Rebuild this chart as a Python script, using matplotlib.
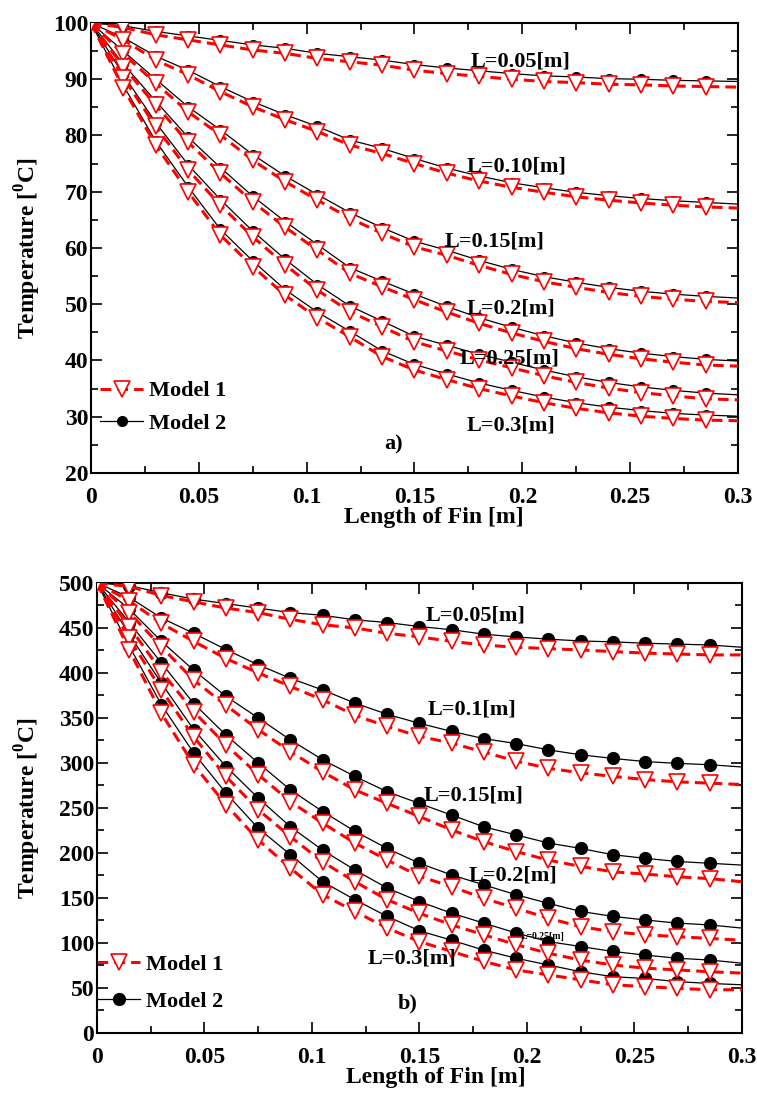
import matplotlib.pyplot as plt
from matplotlib.ticker import MultipleLocator

plt.rcParams['font.family'] = ['Liberation Serif', 'DejaVu Serif']
plt.rcParams['font.weight'] = 'bold'
plt.rcParams['mathtext.fontset'] = 'custom'
plt.rcParams['mathtext.rm'] = 'Liberation Serif:bold'
plt.rcParams['mathtext.bf'] = 'Liberation Serif:bold'

# position along the fin [m]; markers on every point except the last one
fin_x = [0.0, 0.015, 0.03, 0.045, 0.06, 0.075, 0.09, 0.105, 0.12, 0.135, 0.15,
         0.165, 0.18, 0.195, 0.21, 0.225, 0.24, 0.255, 0.27, 0.285, 0.3]

fin_lengths = ['0.05', '0.1', '0.15', '0.2', '0.25', '0.3']

# --- panel a): base temperature 100 C ---
a_m1_005 = [100, 99.2, 97.9, 97.0, 96.1, 95.2, 94.6, 93.7, 93.1, 92.5, 91.6, 91.0, 90.5, 90.0, 89.6, 89.4, 89.1, 89.0, 88.8, 88.7, 88.6]
a_m1_010 = [100, 97.0, 93.4, 90.8, 87.8, 85.1, 82.8, 80.7, 78.3, 76.8, 75.0, 73.3, 71.9, 70.8, 69.9, 69.1, 68.5, 68.0, 67.6, 67.3, 67.1]
a_m1_015 = [100, 94.5, 89.3, 84.2, 80.1, 75.6, 71.8, 68.5, 65.3, 62.6, 60.2, 58.7, 56.9, 55.3, 54.0, 53.0, 52.1, 51.4, 50.9, 50.5, 50.3]
a_m1_020 = [100, 92.2, 85.4, 78.8, 73.3, 68.2, 63.7, 59.6, 55.5, 53.1, 50.8, 48.6, 46.6, 44.9, 43.4, 42.1, 41.1, 40.3, 39.7, 39.2, 39.0]
a_m1_025 = [100, 90.3, 81.6, 73.9, 67.6, 62.0, 57.0, 52.5, 48.7, 46.0, 43.3, 41.7, 40.1, 38.7, 37.3, 36.1, 35.1, 34.3, 33.7, 33.2, 33.0]
a_m1_030 = [100, 88.4, 78.3, 70.0, 62.3, 56.7, 51.6, 47.6, 44.2, 40.7, 38.3, 36.6, 35.0, 33.7, 32.5, 31.5, 30.7, 30.1, 29.7, 29.4, 29.3]

a_m2_005 = [100, 99.5, 98.5, 97.7, 96.9, 96.1, 95.5, 94.6, 94.0, 93.4, 92.6, 92.0, 91.5, 91.0, 90.6, 90.4, 90.1, 90.0, 89.8, 89.7, 89.6]
a_m2_010 = [100, 97.4, 94.1, 91.6, 88.7, 86.0, 83.7, 81.6, 79.2, 77.7, 75.9, 74.2, 72.8, 71.6, 70.7, 69.9, 69.3, 68.8, 68.4, 68.1, 67.8]
a_m2_015 = [100, 95.0, 90.0, 85.1, 81.0, 76.6, 72.8, 69.5, 66.3, 63.6, 61.2, 59.6, 57.8, 56.2, 54.9, 53.9, 53.0, 52.3, 51.8, 51.4, 51.1]
a_m2_020 = [100, 92.7, 86.1, 79.7, 74.3, 69.2, 64.7, 60.6, 56.5, 54.1, 51.8, 49.6, 47.6, 45.9, 44.4, 43.1, 42.1, 41.3, 40.7, 40.2, 39.9]
a_m2_025 = [100, 90.8, 82.3, 74.8, 68.6, 63.0, 58.0, 53.5, 49.7, 47.0, 44.3, 42.7, 41.1, 39.7, 38.3, 37.1, 36.1, 35.3, 34.7, 34.2, 33.9]
a_m2_030 = [100, 88.9, 79.0, 70.9, 63.3, 57.7, 52.6, 48.6, 45.2, 41.7, 39.3, 37.6, 36.0, 34.7, 33.5, 32.5, 31.7, 31.1, 30.6, 30.3, 30.1]

# --- panel b): base temperature 500 C ---
b_m1_005 = [500, 496, 486, 479, 472, 467, 459.5, 453.5, 450, 444, 440, 435, 431, 428.5, 427, 425.5, 423.7, 422, 421, 420, 420]
b_m1_010 = [500, 480, 455, 435, 416, 400, 385, 370, 353, 340.5, 329.5, 322, 312, 302, 294, 289, 285, 281.5, 279, 277.5, 276]
b_m1_015 = [500, 467, 429, 392, 364, 337, 312.5, 290, 270, 255, 240.5, 225.5, 212.5, 201.5, 192, 185, 179, 176.5, 173.5, 171.5, 168]
b_m1_020 = [500, 451.5, 401.5, 357, 320, 287, 257, 233, 211, 192, 174, 162.5, 149.5, 138.5, 127.5, 118, 112.5, 109, 107, 105, 103]
b_m1_025 = [500, 438.5, 381, 329, 285, 248, 218, 190, 168, 148, 133, 120, 109, 98, 88.5, 81, 75.5, 72, 70, 68, 66.5]
b_m1_030 = [500, 425.5, 355, 298, 253.5, 214.5, 183, 153.5, 135, 116.5, 101.5, 90.5, 79.5, 70, 64.5, 59, 53.5, 51.5, 49.5, 48, 48]

b_m2_005 = [500, 497, 489, 482, 477, 472, 467, 464, 459, 456, 451.5, 448, 443, 440, 437.5, 435.5, 434.5, 433, 432, 431, 428.5]
b_m2_010 = [500, 484, 461, 444, 426, 409, 394, 381, 366.5, 354, 344, 335, 327, 321.5, 314.5, 309, 305, 301.5, 299.5, 298, 295.5]
b_m2_015 = [500, 471, 435, 403, 374, 350, 325.5, 303.5, 285, 268, 255, 242, 229, 220, 211, 205, 198, 194, 190.5, 188.5, 186.5]
b_m2_020 = [500, 456, 411, 366, 331, 300, 270, 246, 224, 205, 188.5, 175.5, 164.5, 153.5, 144, 135, 129.5, 125.5, 122, 120, 116.5]
b_m2_025 = [500, 443, 388.5, 337, 296, 261, 229, 203, 181, 161, 146, 133, 122, 111, 101.5, 96, 90.5, 86.5, 83, 81, 77.5]
b_m2_030 = [500, 430, 364.5, 311, 266.5, 227.5, 198, 168, 148, 129.5, 113.5, 103, 92, 83, 75.5, 68, 62.5, 60.5, 57, 55, 53.5]

a_model1 = [a_m1_005, a_m1_010, a_m1_015, a_m1_020, a_m1_025, a_m1_030]
a_model2 = [a_m2_005, a_m2_010, a_m2_015, a_m2_020, a_m2_025, a_m2_030]
b_model1 = [b_m1_005, b_m1_010, b_m1_015, b_m1_020, b_m1_025, b_m1_030]
b_model2 = [b_m2_005, b_m2_010, b_m2_015, b_m2_020, b_m2_025, b_m2_030]

# curve labels: (text, x, y, fontsize)
a_labels = [('L=0.05[m]', 0.176, 93.2, 16), ('L=0.10[m]', 0.174, 74.5, 16),
            ('L=0.15[m]', 0.164, 61.1, 16), ('L=0.2[m]', 0.174, 49.3, 16),
            ('L=0.25[m]', 0.171, 40.4, 16), ('L=0.3[m]', 0.174, 28.5, 16)]
b_labels = [('L=0.05[m]', 0.153, 464, 16), ('L=0.1[m]', 0.154, 359, 16),
            ('L=0.15[m]', 0.152, 264, 16), ('L=0.2[m]', 0.173, 175, 16),
            ('L=0.25[m]', 0.197, 107, 7), ('L=0.3[m]', 0.126, 83, 16)]

fig = plt.figure(figsize=(7.57, 10.99), dpi=100)
ax_a = fig.add_axes([0.1202, 0.5696, 0.8547, 0.4095])
ax_b = fig.add_axes([0.1281, 0.0601, 0.8520, 0.4095])


def draw_panel(ax, model1, model2, dot_size):
    h1 = h2 = None
    for temps in model2:
        h2, = ax.plot(fin_x, temps, color='black', lw=0.9, marker='o', ms=dot_size,
                      mfc='black', mec='black', markevery=slice(0, 20), zorder=2)
    for temps in model1:
        h1, = ax.plot(fin_x, temps, color='red', lw=2.2, dashes=(3.5, 2.0), marker='v',
                      ms=11, mfc='white', mec='red', mew=1.2,
                      markevery=slice(0, 20), zorder=3)
    return h1, h2


def style_axes(ax, ymin, ymax, ymajor, yminor, ylab_x):
    ax.set_xlim(0, 0.3)
    ax.set_ylim(ymin, ymax)
    ax.xaxis.set_major_locator(MultipleLocator(0.05))
    ax.xaxis.set_minor_locator(MultipleLocator(0.025))
    ax.yaxis.set_major_locator(MultipleLocator(ymajor))
    ax.yaxis.set_minor_locator(MultipleLocator(yminor))
    ax.xaxis.set_major_formatter(plt.FuncFormatter(lambda v, p: ('%g' % round(v, 3))))
    ax.tick_params(which='both', direction='in', top=True, right=True, width=1.2)
    ax.tick_params(which='major', length=8)
    ax.tick_params(which='minor', length=5)
    ax.tick_params(axis='x', pad=10, labelsize=17)
    ax.tick_params(axis='y', pad=2, labelsize=17)
    for lab in ax.get_xticklabels() + ax.get_yticklabels():
        lab.set_fontweight('bold')
    for sp in ax.spines.values():
        sp.set_linewidth(1.5)
    ax.set_xlabel('Length of Fin [m]', fontsize=17, fontweight='bold')
    ax.set_ylabel('Temperature [$^{0}$C]', fontsize=17, fontweight='bold')
    ax.xaxis.set_label_coords(0.53, -0.075)
    ax.yaxis.set_label_coords(ylab_x, 0.5)


h1, h2 = draw_panel(ax_a, a_model1, a_model2, 7)
style_axes(ax_a, 20, 100, 10, 5, -0.074)
for txt, lx, ly, fs in a_labels:
    ax_a.text(lx, ly, txt, fontsize=fs, fontweight='bold', va='center', zorder=5)
ax_a.text(0.136, 25, 'a)', fontsize=16, fontweight='bold', va='center')
ax_a.legend([h1, h2], ['Model 1', 'Model 2'], loc='upper left',
            bbox_to_anchor=(0.014, 0.205), frameon=False, fontsize=16,
            handlelength=1.95, handletextpad=0.25, labelspacing=0.55,
            borderpad=0, borderaxespad=0)

h1, h2 = draw_panel(ax_b, b_model1, b_model2, 8.5)
style_axes(ax_b, 0, 500, 50, 25, -0.084)
for txt, lx, ly, fs in b_labels:
    ax_b.text(lx, ly, txt, fontsize=fs, fontweight='bold', va='center', zorder=5)
ax_b.text(0.14, 33, 'b)', fontsize=16, fontweight='bold', va='center')
ax_b.legend([h1, h2], ['Model 1', 'Model 2'], loc='upper left',
            bbox_to_anchor=(0.0, 0.175), frameon=False, fontsize=16,
            handlelength=1.95, handletextpad=0.25, labelspacing=0.75,
            borderpad=0, borderaxespad=0)
ax_b.xaxis.set_label_coords(0.526, -0.075)

fig.savefig('out.png', dpi=100)
